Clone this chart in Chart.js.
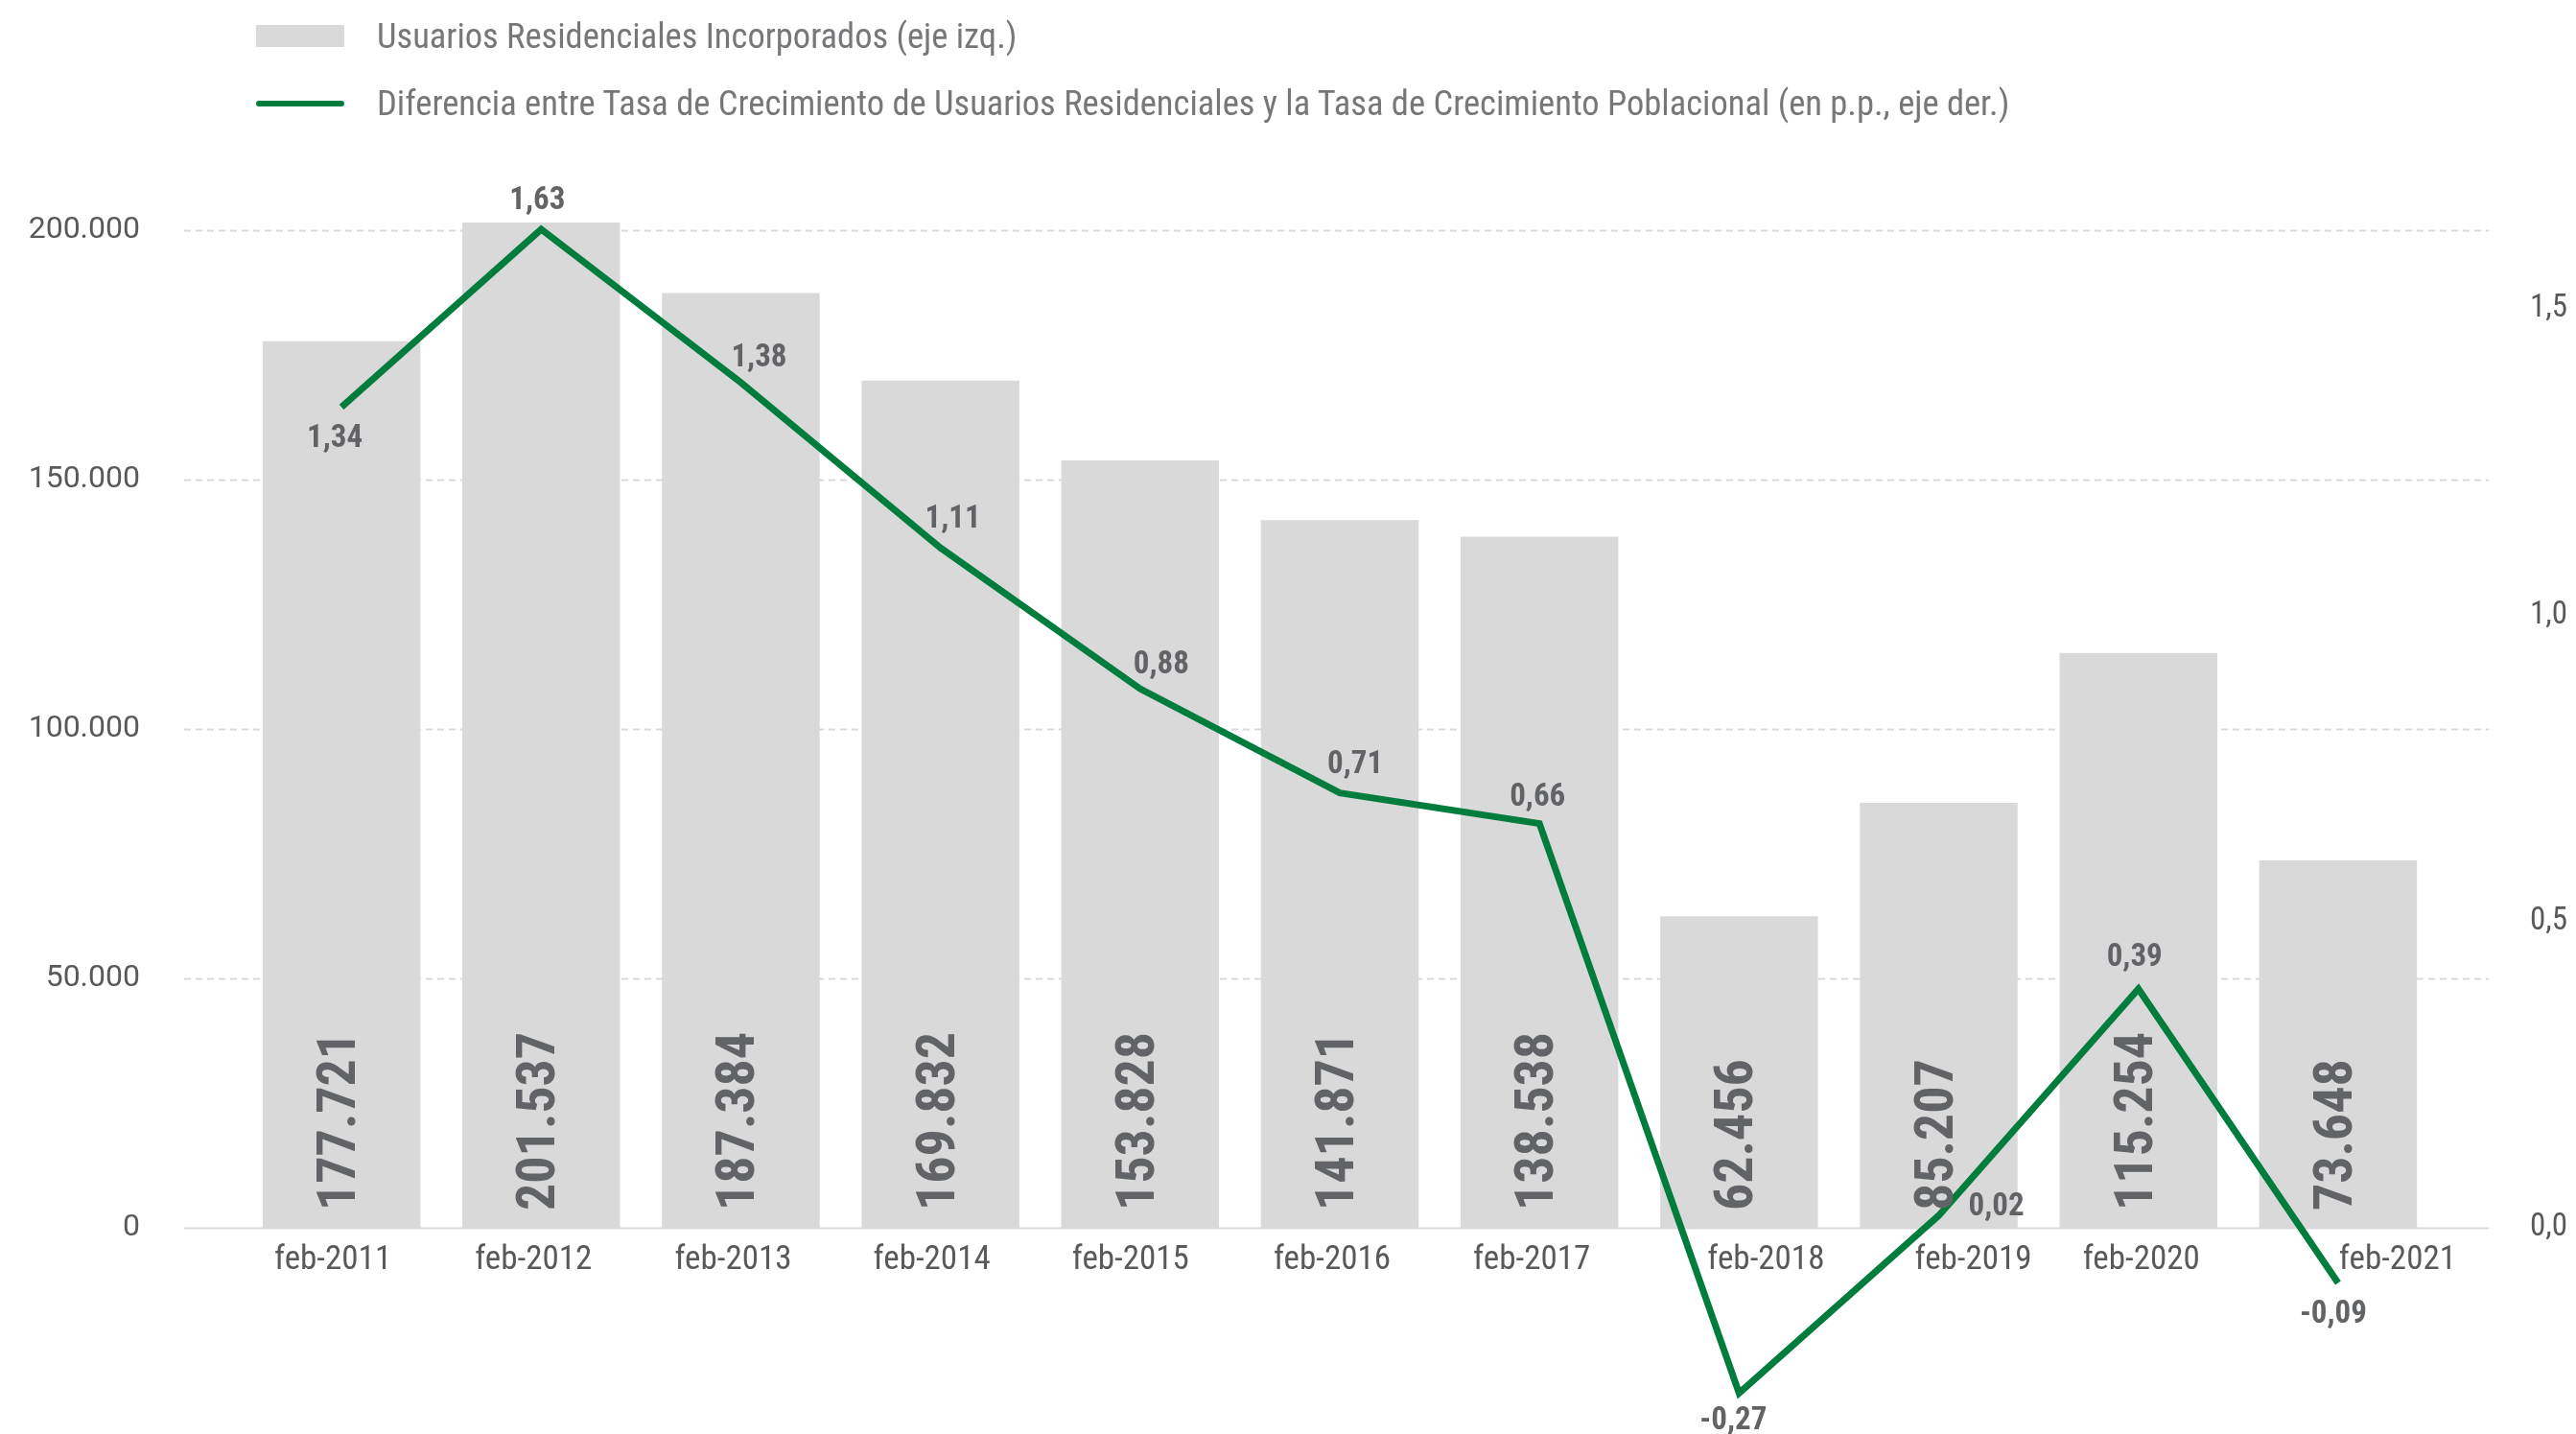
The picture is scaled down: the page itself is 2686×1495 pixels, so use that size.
<!DOCTYPE html>
<html>
<head>
<meta charset="utf-8">
<script src="https://cdn.jsdelivr.net/npm/chart.js@4.4.1/dist/chart.umd.min.js"></script>
<style>
  html, body { margin: 0; padding: 0; background: #fff; }
  #wrap { position: relative; width: 2686px; height: 1495px; }
  #legend { position: absolute; left: 267px; top: 0; font-family: 'Roboto Condensed', 'Liberation Sans Narrow', Roboto, sans-serif; font-size: 36.5px; color: #76777a; }
  .item { position: absolute; left: 0; white-space: nowrap; display: flex; align-items: center; }
  .box { width: 92px; height: 23px; background: #d9d9d9; margin-right: 34px; }
  .ln { width: 92px; height: 6px; border-radius: 3px; background: #007d3c; margin-right: 34px; }
</style>
</head>
<body>
<div id="wrap">
  <canvas id="chart" width="2686" height="1495"></canvas>
  <div id="legend">
    <div class="item" style="top: 16px;"><span class="box"></span><span>Usuarios Residenciales Incorporados (eje izq.)</span></div>
    <div class="item" style="top: 86px;"><span class="ln"></span><span>Diferencia entre Tasa de Crecimiento de Usuarios Residenciales y la Tasa de Crecimiento Poblacional (en p.p., eje der.)</span></div>
  </div>
</div>
<script>
const labels = ['feb-2011', 'feb-2012', 'feb-2013', 'feb-2014', 'feb-2015', 'feb-2016',
                'feb-2017', 'feb-2018', 'feb-2019', 'feb-2020', 'feb-2021'];
const usuarios = [177721, 201537, 187384, 169832, 153828, 141871, 138538, 62456, 85207, 115254, 73648];
const diferencia = [1.34, 1.63, 1.38, 1.11, 0.88, 0.71, 0.66, -0.27, 0.02, 0.39, -0.09];
const leftTicks = [0, 50000, 100000, 150000, 200000];
const rightTicks = [0, 0.5, 1.0, 1.5];

const COND = "'Roboto Condensed', 'Liberation Sans Narrow', Roboto, sans-serif";
const GREEN = '#007d3c';
const GRAY_TXT = '#626366';

// the original nudges some category labels sideways (away from the line)
const xLabelShift = [-9, -8, -8, -9, -10, -8, -8, 28, 36, 3, 62];

const fmtMiles = v => String(Math.round(v)).replace(/\B(?=(\d{3})+(?!\d))/g, '.');
const fmtComa = (v, d) => v.toFixed(d).replace('.', ',');

// dashed gridlines run past the category area, like the original
const gridPlugin = {
    id: 'gridExt',
    beforeDatasetsDraw(chart) {
        const ctx = chart.ctx;
        const y = chart.scales.y;
        const x0 = 192, x1 = 2595;
        ctx.save();
        ctx.lineWidth = 2;
        ctx.strokeStyle = '#d9d9d9';
        leftTicks.forEach(v => {
            const py = Math.round(y.getPixelForValue(v)) + 0.5;
            ctx.setLineDash(v === 0 ? [] : [7, 5]);
            ctx.beginPath();
            ctx.moveTo(x0, py);
            ctx.lineTo(x1, py);
            ctx.stroke();
        });
        ctx.restore();
    }
};

// value labels: rotated inside bars, bold next to line points
const labelPlugin = {
    id: 'valueLabels',
    afterDatasetsDraw(chart, args, opts) {
        const ctx = chart.ctx;
        ctx.save();
        ctx.fillStyle = GRAY_TXT;

        const bars = chart.getDatasetMeta(0).data;
        ctx.font = 'bold 56px ' + COND;
        ctx.textAlign = 'left';
        ctx.textBaseline = 'middle';
        bars.forEach((b, i) => {
            ctx.save();
            ctx.translate(b.x, b.base - 18);
            ctx.rotate(-Math.PI / 2);
            ctx.fillText(fmtMiles(usuarios[i]), 0, 0);
            ctx.restore();
        });

        const pts = chart.getDatasetMeta(1).data;
        ctx.font = 'bold 33px ' + COND;
        ctx.textAlign = 'center';
        pts.forEach((p, i) => {
            const o = opts.offsets[i];
            ctx.fillText(fmtComa(diferencia[i], 2), p.x + o[0], p.y + o[1]);
        });
        ctx.restore();
    }
};

new Chart(document.getElementById('chart').getContext('2d'), {
    data: {
        labels: labels,
        datasets: [{
            type: 'bar',
            label: 'Usuarios Residenciales Incorporados (eje izq.)',
            data: usuarios,
            backgroundColor: '#d9d9d9',
            barPercentage: 0.79,
            categoryPercentage: 1,
            yAxisID: 'y',
            order: 1
        }, {
            type: 'line',
            label: 'Diferencia entre Tasa de Crecimiento de Usuarios Residenciales y la Tasa de Crecimiento Poblacional (en p.p., eje der.)',
            data: diferencia,
            borderColor: GREEN,
            borderWidth: 7,
            pointRadius: 0,
            tension: 0,
            fill: false,
            clip: false,
            yAxisID: 'y1',
            order: 0
        }]
    },
    options: {
        responsive: false,
        animation: false,
        layout: { padding: { top: 188, left: 0, right: 0, bottom: 0 } },
        plugins: {
            legend: { display: false },
            tooltip: { enabled: false },
            valueLabels: {
                offsets: [[-7, 33], [-4, -29], [19, -25], [13, -29], [22, -24], [16, -29],
                          [-2, -27], [-6, 29], [60, -8], [-4, -32], [-5, 33]]
            }
        },
        scales: {
            x: {
                offset: true,
                grid: { display: false, drawTicks: false },
                border: { display: false },
                ticks: { color: '#595959', font: { family: COND, size: 35 }, padding: 13, maxRotation: 0 },
                afterFit: s => { s.height = 215; },
                afterUpdate: s => {
                    if (s._shiftPatched) return;
                    s._shiftPatched = true;
                    const orig = s._computeLabelItems.bind(s);
                    s._computeLabelItems = ca => {
                        const items = orig(ca);
                        items.forEach((it, i) => { it.options.translation[0] += xLabelShift[i] || 0; });
                        return items;
                    };
                }
            },
            y: {
                position: 'left',
                min: 0,
                max: 210000,
                grid: { display: false, drawTicks: false },
                border: { display: false },
                afterBuildTicks: s => { s.ticks = leftTicks.map(v => ({ value: v })); },
                ticks: {
                    color: '#595959',
                    font: { family: 'Roboto, sans-serif', size: 32 },
                    padding: 106,
                    callback: v => fmtMiles(v)
                },
                afterFit: s => { s.width = 252; }
            },
            y1: {
                position: 'right',
                min: 0,
                max: 1.71,
                grid: { display: false, drawTicks: false },
                border: { display: false },
                afterBuildTicks: s => { s.ticks = rightTicks.map(v => ({ value: v })); },
                ticks: {
                    color: '#595959',
                    font: { family: COND, size: 33 },
                    padding: 96,
                    callback: v => fmtComa(v, 1)
                },
                afterFit: s => { s.width = 144; }
            }
        }
    },
    plugins: [gridPlugin, labelPlugin]
});
</script>
</body>
</html>
